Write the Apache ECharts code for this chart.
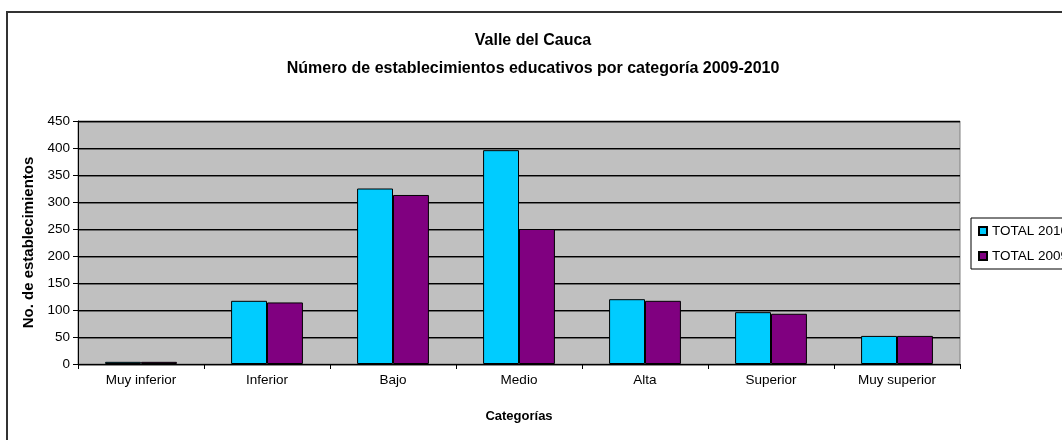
<!DOCTYPE html>
<html>
<head>
<meta charset="utf-8">
<script src="https://cdn.jsdelivr.net/npm/echarts@6/dist/echarts.min.js"></script>
<style>
	html,body{margin:0;padding:0;background:#fff}
	#chart{width:1062px;height:440px}
</style>
</head>
<body>
<div id="chart"></div>
<script>
const categories=["Muy inferior","Inferior","Bajo","Medio","Alta","Superior","Muy superior"]
const total2010=[4,117,325,396,120,96,52]
const total2009=[4,114,313,250,117,93,52]
const yTicks={min:0,max:450,interval:50}

const font="'Liberation Sans', Arial, sans-serif"
const chart=echarts.init(document.getElementById("chart"),null,{renderer:"canvas"})
chart.setOption({
	animation:false,
	backgroundColor:"#fff",
	textStyle:{fontFamily:font},
	graphic:[
		{
			type:"rect",
			shape:{x:7,y:12,width:1070,height:450},
			style:{fill:"none",stroke:"#333",lineWidth:2},
			silent:true,
			z:-1
		}
	],
	title:{
		text:"Valle del Cauca\nNúmero de establecimientos educativos por categoría 2009-2010",
		left:528,
		textAlign:"center",
		top:22,
		textStyle:{fontFamily:font,fontSize:16,fontWeight:"bold",color:"#000",lineHeight:28}
	},
	legend:{
		orient:"vertical",
		left:971,
		top:218,
		itemWidth:8,
		itemHeight:8,
		itemGap:11,
		padding:[6,6,6,7],
		backgroundColor:"#fff",
		borderColor:"#000",
		borderWidth:1,
		borderRadius:0,
		icon:"rect",
		textStyle:{fontFamily:font,fontSize:13.5,color:"#000"},
		data:["TOTAL 2010","TOTAL 2009"]
	},
	grid:{
		left:78,
		right:102,
		top:121,
		bottom:76,
		show:true,
		backgroundColor:"#c0c0c0",
		borderColor:"#808080",
		borderWidth:1
	},
	xAxis:{
		type:"category",
		data:categories,
		name:"Categorías",
		nameLocation:"middle",
		nameGap:46,
		nameTextStyle:{fontFamily:font,fontSize:13,fontWeight:"bold",color:"#000"},
		axisLine:{lineStyle:{color:"#000",width:1}},
		axisTick:{show:true,length:5,lineStyle:{color:"#000"}},
		axisLabel:{fontFamily:font,fontSize:13.5,color:"#000",margin:9}
	},
	yAxis:{
		type:"value",
		min:yTicks.min,
		max:yTicks.max,
		interval:yTicks.interval,
		name:"No. de establecimientos",
		nameLocation:"middle",
		nameGap:39,
		nameTextStyle:{fontFamily:font,fontSize:15,fontWeight:"bold",color:"#000"},
		axisLine:{show:true,lineStyle:{color:"#000",width:1}},
		axisTick:{show:true,length:5,lineStyle:{color:"#000"}},
		axisLabel:{fontFamily:font,fontSize:13.5,color:"#000",margin:8},
		splitLine:{
			show:true,
			lineStyle:{color:"#000",width:1,shadowColor:"rgba(0,0,0,0.45)",shadowOffsetY:1,shadowBlur:0}
		}
	},
	series:[
		{
			name:"TOTAL 2010",
			type:"bar",
			data:total2010,
			barGap:"0%",
			barCategoryGap:"43%",
			itemStyle:{color:"#00ccff",borderColor:"#000",borderWidth:1}
		},
		{
			name:"TOTAL 2009",
			type:"bar",
			data:total2009,
			barGap:"0%",
			barCategoryGap:"43%",
			itemStyle:{color:"#800080",borderColor:"#000",borderWidth:1}
		}
	]
})
</script>
</body>
</html>
